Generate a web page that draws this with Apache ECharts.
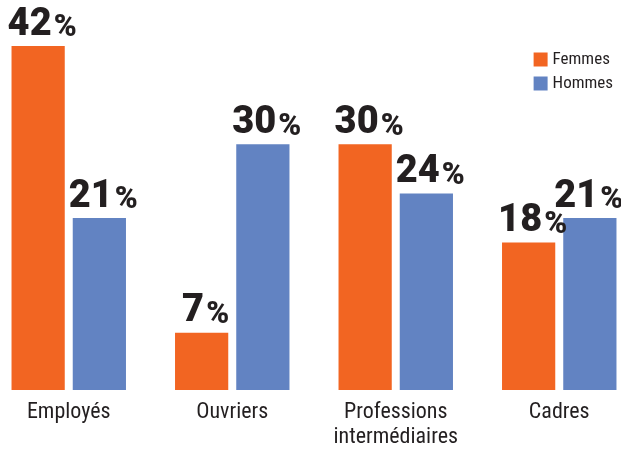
<!DOCTYPE html>
<html><head><meta charset="utf-8">
<script src="https://cdn.jsdelivr.net/npm/echarts@6/dist/echarts.min.js"></script>
<style>html,body{margin:0;padding:0;background:#fff;overflow:hidden;width:621px;height:454px}#c{width:654px;height:454px;margin-left:-13px}</style>
</head><body><div id="c"></div>
<script>
var categories = ['Employés', 'Ouvriers', 'Professions\nintermédiaires', 'Cadres'];
var femmes = [42, 7, 30, 18];
var hommes = [21, 30, 24, 21];
var seriesNames = ['Femmes', 'Hommes'];

var condensed = '"Liberation Sans Narrow", "Roboto Condensed", "Arial Narrow", sans-serif';
function makeLabel(dx) {
  return {
    show: true, position: 'top', distance: 2, offset: [dx, 0],
    formatter: function (p) { return '{n|' + p.value + '}{p|%}'; },
    rich: {
      n: { fontFamily: 'Roboto', fontWeight: 900, fontSize: 38, color: '#231F20', verticalAlign: 'bottom' },
      p: { fontFamily: 'Roboto', fontWeight: 900, fontSize: 31, color: '#231F20', verticalAlign: 'bottom', padding: [0, 0, 0, 2] }
    }
  };
}
// keep the last label inside the page, as in the reference
var hommesData = hommes.map(function (v, i) {
  return i === categories.length - 1 ? { value: v, label: { offset: [-1, 0] } } : v;
});
var chart = echarts.init(document.getElementById('c'));
chart.setOption({
  animation: false,
  backgroundColor: '#fff',
  grid: { left: 0, right: 0, top: 46, bottom: 64, containLabel: false },
  legend: {
    data: seriesNames, orient: 'vertical', right: 23, top: 46,
    icon: 'rect', itemWidth: 14, itemHeight: 14, itemGap: 7, itemTextGap: 6,
    textStyle: { fontFamily: condensed, fontSize: 17, color: '#231F20' }
  },
  xAxis: {
    type: 'category', data: categories,
    axisLine: { show: false }, axisTick: { show: false },
    axisLabel: { fontFamily: condensed, fontSize: 22, color: '#231F20', margin: 10, lineHeight: 25, interval: 0 }
  },
  yAxis: { type: 'value', min: 0, max: 42, show: false, splitLine: { show: false } },
  series: [
    { name: seriesNames[0], type: 'bar', data: femmes, itemStyle: { color: '#F26522' },
      barGap: '15%', barCategoryGap: '30%', label: makeLabel(4) },
    { name: seriesNames[1], type: 'bar', data: hommesData, itemStyle: { color: '#6283C2' }, label: makeLabel(4) }
  ]
});
</script></body></html>
